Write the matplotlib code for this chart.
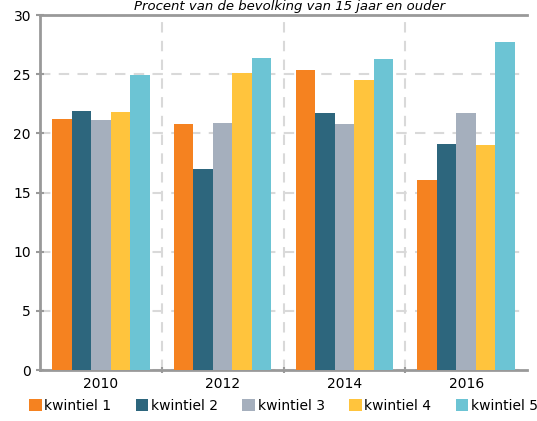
import matplotlib.pyplot as plt
import numpy as np

years = ["2010", "2012", "2014", "2016"]
labels = ["kwintiel 1", "kwintiel 2", "kwintiel 3", "kwintiel 4", "kwintiel 5"]
kw1 = [21.2, 20.8, 25.4, 16.1]
kw2 = [21.9, 17.0, 21.7, 19.1]
kw3 = [21.1, 20.9, 20.8, 21.7]
kw4 = [21.8, 25.1, 24.5, 19.0]
kw5 = [24.9, 26.4, 26.3, 27.7]
colors = ["#F58220", "#2D667D", "#A5AFBD", "#FFC43D", "#6CC4D4"]

series = [kw1, kw2, kw3, kw4, kw5]

fig = plt.figure(figsize=(5.37, 4.21), dpi=100)
ax = fig.add_axes([0.0745, 0.121, 0.907, 0.843])

x = np.arange(len(years))
w = 0.16
for i, (vals, lab, c) in enumerate(zip(series, labels, colors)):
    ax.bar(x + (i - 2) * w, vals, w, color=c, label=lab, zorder=3)

ax.set_xlim(-0.5, len(years) - 0.5)
ax.set_ylim(0, 30)
ax.set_yticks(range(0, 31, 5))
ax.set_xticks(x)
ax.set_xticklabels(years)
ax.set_xticks(x[:-1] + 0.5, minor=True)

ax.grid(axis="y", color="#D9D9D9", linestyle=(0, (5, 4)), linewidth=1.5, zorder=0)
ax.grid(axis="x", which="minor", color="#D9D9D9", linestyle=(0, (5, 4)), linewidth=1.5, zorder=0)
ax.tick_params(axis="x", which="major", length=0, labelsize=10, pad=5)
ax.tick_params(axis="x", which="minor", length=5, width=1.5, color="#999999", direction="inout")
ax.tick_params(axis="y", length=6, width=1.5, color="#999999", direction="inout", labelsize=10)

for side in ["left", "bottom", "top"]:
    ax.spines[side].set_color("#999999")
    ax.spines[side].set_linewidth(2)
ax.spines["right"].set_visible(False)

fig.text(0.54, 0.999, "Procent van de bevolking van 15 jaar en ouder",
         ha="center", va="top", fontsize=9.5, style="italic")

fig.legend(loc="lower center", bbox_to_anchor=(0.528, -0.01), ncol=5, frameon=False,
           fontsize=10, handlelength=0.9, handleheight=0.9, handletextpad=0.2, columnspacing=1.75)

fig.savefig("out.png", dpi=100)
